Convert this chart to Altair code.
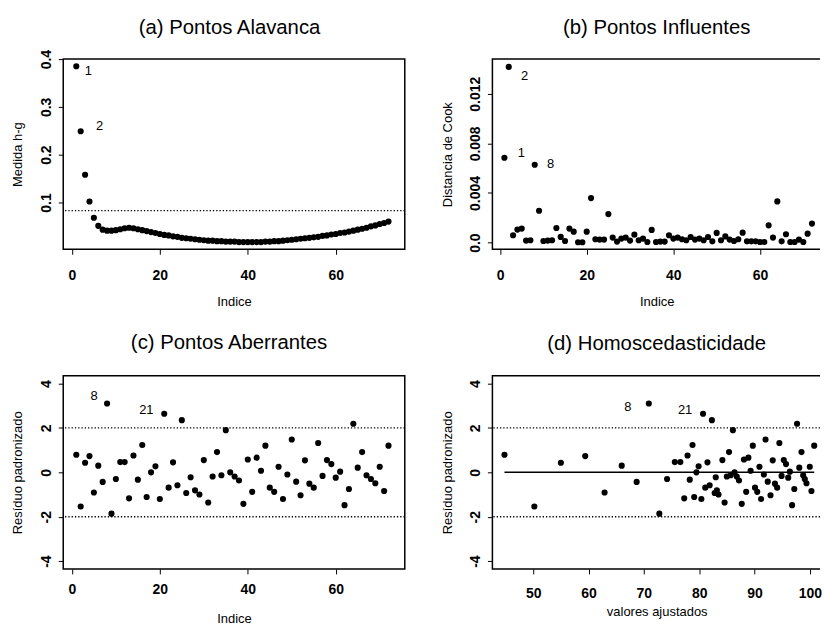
import altair as alt
import pandas as pd

# ---------------- data ----------------
indice = list(range(1, 73))

medida_hg = [
    0.385, 0.249, 0.158, 0.102, 0.068, 0.051, 0.043, 0.041, 0.041, 0.042,
    0.044, 0.046, 0.047, 0.046, 0.044, 0.042, 0.040, 0.038, 0.036, 0.034,
    0.032, 0.031, 0.029, 0.028, 0.026, 0.025, 0.024, 0.023, 0.022, 0.021,
    0.020, 0.020, 0.019, 0.019, 0.018, 0.018, 0.018, 0.017, 0.017, 0.017,
    0.017, 0.017, 0.017, 0.018, 0.018, 0.019, 0.019, 0.020, 0.021, 0.022,
    0.023, 0.024, 0.025, 0.026, 0.027, 0.028, 0.030, 0.031, 0.033, 0.034,
    0.036, 0.037, 0.039, 0.041, 0.043, 0.045, 0.047, 0.050, 0.052, 0.055,
    0.057, 0.060,
]

distancia_cook = [
    0.00684, 0.01417, 0.00059, 0.00105, 0.00113, 0.00016, 0.00019, 0.00628, 0.00257, 0.00013,
    0.00016, 0.00019, 0.00118, 0.00046, 0.00013, 0.00113, 0.00088, 0.00003, 0.00003, 0.00088,
    0.00359, 0.00027, 0.00024, 0.00024, 0.00230, 0.00040, 0.00008, 0.00032, 0.00040, 0.00016,
    0.00064, 0.00019, 0.00032, 0.00005, 0.00102, 0.00005, 0.00008, 0.00008, 0.00059, 0.00032,
    0.00040, 0.00027, 0.00019, 0.00045, 0.00024, 0.00032, 0.00019, 0.00045, 0.00010, 0.00078,
    0.00019, 0.00050, 0.00024, 0.00013, 0.00027, 0.00080, 0.00010, 0.00010, 0.00010, 0.00005,
    0.00005, 0.00139, 0.00040, 0.00332, 0.00010, 0.00067, 0.00005, 0.00005, 0.00024, 0.00005,
    0.00072, 0.00153,
]

residuo = [
    0.79, -1.54, 0.43, 0.73, -0.91, 0.30, -0.43, 3.10, -1.86, -0.30,
    0.46, 0.46, -1.17, 0.76, -0.33, 1.23, -1.11, 0.00, 0.27, -1.20,
    2.64, -0.69, 0.45, -0.58, 2.35, -0.93, -0.22, -0.81, -1.00, 0.55,
    -1.36, -0.19, 0.91, -0.13, 1.90, 0.00, -0.19, -0.37, -1.42, 0.58,
    -0.88, 0.66, 0.07, 1.20, -0.69, -0.88, 0.25, -1.20, -0.10, 1.48,
    -0.42, -1.03, 0.54, -0.51, -0.69, 1.32, -0.16, 0.55, 0.37, -0.24,
    0.03, -1.48, -0.75, 2.19, 0.21, 0.91, -0.13, -0.30, -0.49, 0.25,
    -0.84, 1.20,
]

ajustados = [
    44.8, 50.2, 55.0, 59.4, 62.9, 66.0, 68.7, 70.9, 72.8, 74.2,
    75.6, 76.6, 77.3, 77.9, 78.3, 78.8, 79.1, 79.5, 79.9, 80.4,
    80.7, 81.1, 81.5, 81.9, 82.3, 82.8, 83.0, 83.2, 83.5, 84.2,
    84.6, 85.0, 85.4, 85.7, 86.1, 86.4, 86.8, 87.2, 87.7, 88.1,
    88.5, 88.9, 89.3, 89.7, 90.1, 90.5, 90.9, 91.2, 91.7, 92.0,
    92.4, 92.9, 93.3, 93.7, 94.1, 94.5, 94.9, 95.3, 95.7, 96.1,
    96.4, 96.8, 97.2, 97.7, 98.1, 98.5, 98.8, 99.1, 99.4, 100.0,
    100.3, 100.8,
]

limite_hg = [0.083]
limites_residuo = [-2, 2]
linha_zero_x = [44.8, 100.8]
linha_zero_y = [0, 0]

titulos = ["(a) Pontos Alavanca", "(b) Pontos Influentes",
           "(c) Pontos Aberrantes", "(d) Homoscedasticidade"]
ticks_indice = [0, 20, 40, 60]
ticks_ajustados = [50, 60, 70, 80, 90, 100]
ticks_hg = [0.1, 0.2, 0.3, 0.4]
ticks_cook = [0.0, 0.002, 0.004, 0.006, 0.008, 0.010, 0.012, 0.014]
ticks_residuo = [-4, -2, 0, 2, 4]

# axis ranges (the right-hand panels end at the page edge, as in the reference)
dom_idx = [-1.97, 75.7]
dom_idx_b = [-1.77, 73.86]
dom_hg = [0.002, 0.4]
dom_cook = [-0.00054, 0.0148]
dom_res = [-4.35, 4.35]
dom_fit = [42.62, 101.85]

rotulos_a = [1, 2]
rotulos_b = [2, 1, 8]
rotulos_c = [8, 21]
rotulos_d = [8, 21]

df = pd.DataFrame({
    "indice": indice,
    "hg": medida_hg,
    "cook": distancia_cook,
    "res": residuo,
    "fit": ajustados,
    "lab": [str(i) for i in indice],
})
df_hg = pd.DataFrame({"v": limite_hg})
df_res = pd.DataFrame({"v": limites_residuo})
df_zero = pd.DataFrame({"fx": linha_zero_x, "fy": linha_zero_y})

# ---------------- styling helpers ----------------
FONT = "Liberation Sans"
W_L, W_R = 343, 329
GAP = 88
H_T, H_B = 191, 194
BOX = alt.ViewBackground(stroke="black", strokeWidth=1.5)
OPEN = alt.ViewBackground(stroke="transparent")


def x_axis(values, title, label_pad, title_y, title_x):
    return alt.Axis(
        values=values, title=title, grid=False, domain=False,
        ticks=True, tickSize=5, tickColor="black", tickWidth=1,
        labelFont=FONT, labelFontSize=14, labelFontWeight="bold", labelColor="black",
        labelPadding=label_pad, labelBaseline="alphabetic", labelAlign="center",
        labelAngle=0, labelFlush=False, labelOverlap=False,
        labelExpr="'' + datum.value",
        titleFont=FONT, titleFontSize=13, titleFontWeight="normal", titleColor="black",
        titleX=title_x, titleY=title_y, titleAlign="center",
        titleBaseline="alphabetic", titleAngle=0,
    )


def y_axis(values, title, height, label_expr):
    return alt.Axis(
        values=values, title=title, grid=False, domain=False,
        ticks=True, tickSize=5, tickColor="black", tickWidth=1,
        labelFont=FONT, labelFontSize=14, labelFontWeight="bold", labelColor="black",
        labelPadding=8, labelBaseline="alphabetic", labelAlign="center",
        labelAngle=270, labelFlush=False, labelOverlap=False,
        labelExpr=label_expr,
        titleFont=FONT, titleFontSize=13, titleFontWeight="normal", titleColor="black",
        titleX=-41.5, titleY=height / 2, titleAlign="center",
        titleBaseline="alphabetic", titleAngle=270,
    )


def panel_title(k, cx, base):
    d = pd.DataFrame({"t": [titulos[k]]})
    return alt.Chart(d).mark_text(font=FONT, fontSize=20.4, color="black",
                                  align="center", baseline="alphabetic").encode(
        text="t:N", x=alt.value(cx), y=alt.value(base))


def open_box(xdom, ydom, xs, ys, ytitle):
    # top, left and bottom sides of a right-hand panel's box (its right side is
    # beyond the page edge in the reference), drawn as one line through the corners
    d = pd.DataFrame({
        "bx": [xdom[1], xdom[0], xdom[0], xdom[1]],
        "by": [ydom[1], ydom[1], ydom[0], ydom[0]],
        "o": [0, 1, 2, 3],
    })
    return alt.Chart(d).mark_line(color="black", strokeWidth=1.5).encode(
        x=alt.X("bx:Q", scale=xs), y=alt.Y("by:Q", scale=ys, title=ytitle),
        order="o:Q")


def labels(data, xf, yf, xs, ys, ids, offsets):
    out = []
    for i, (dx, dy) in zip(ids, offsets):
        out.append(
            alt.Chart(data).transform_filter(alt.datum.indice == i)
            .mark_text(font=FONT, fontSize=13, color="black", align="center",
                       baseline="middle", dx=dx, dy=dy)
            .encode(x=alt.X(xf, scale=xs), y=alt.Y(yf, scale=ys), text="lab:N")
        )
    return out


def dotted(data, ys, ytitle):
    return alt.Chart(data).mark_rule(color="black", strokeWidth=1.3,
                                     strokeDash=[1.3, 2.0]).encode(
        y=alt.Y("v:Q", scale=ys, title=ytitle))


pt = dict(size=38, color="black", opacity=1)

# ---------------- (a) leverage ----------------
xs_a = alt.Scale(domain=dom_idx, nice=False, zero=False)
ys_a = alt.Scale(domain=dom_hg, nice=False, zero=False)
pts_a = alt.Chart(df).mark_circle(**pt).encode(
    x=alt.X("indice:Q", scale=xs_a,
            axis=x_axis(ticks_indice, "Indice", 25, 56.5, 171.5)),
    y=alt.Y("hg:Q", scale=ys_a, title="Medida h-g",
            axis=y_axis(ticks_hg, "Medida h-g", H_T, "format(datum.value, '.1f')")),
)
panel_a = alt.layer(
    dotted(df_hg, ys_a, "Medida h-g"), pts_a,
    *labels(df, "indice:Q", "hg:Q", xs_a, ys_a, rotulos_a, [(12, 5), (19, -5)]),
    panel_title(0, 167, -25.6),
).properties(width=W_L, height=H_T, view=BOX)

# ---------------- (b) Cook ----------------
xs_b = alt.Scale(domain=dom_idx_b, nice=False, zero=False)
ys_b = alt.Scale(domain=dom_cook, nice=False, zero=False)
cook_expr = ("datum.value == 0 ? '0.0' : (round(datum.value * 1000) % 4 == 0 ? "
             "format(datum.value, '.3f') : '')")
pts_b = alt.Chart(df).mark_circle(**pt).encode(
    x=alt.X("indice:Q", scale=xs_b,
            axis=x_axis(ticks_indice, "Indice", 25, 56.5, 165)),
    y=alt.Y("cook:Q", scale=ys_b, title="Distancia de Cook",
            axis=y_axis(ticks_cook, "Distancia de Cook", H_T, cook_expr)),
)
panel_b = alt.layer(
    open_box(dom_idx_b, dom_cook, xs_b, ys_b, "Distancia de Cook"), pts_b,
    *labels(df, "indice:Q", "cook:Q", xs_b, ys_b, rotulos_b, [(16, 9), (17, -5), (16, -1)]),
    panel_title(1, 165, -25.6),
).properties(width=W_R, height=H_T, view=OPEN)

# ---------------- (c) residuals vs index ----------------
xs_c = alt.Scale(domain=dom_idx, nice=False, zero=False)
ys_c = alt.Scale(domain=dom_res, nice=False, zero=False)
pts_c = alt.Chart(df).mark_circle(**pt).encode(
    x=alt.X("indice:Q", scale=xs_c,
            axis=x_axis(ticks_indice, "Indice", 20, 54, 171.5)),
    y=alt.Y("res:Q", scale=ys_c, title="Resíduo padronizado",
            axis=y_axis(ticks_residuo, "Resíduo padronizado", H_B, "'' + datum.value")),
)
panel_c = alt.layer(
    dotted(df_res, ys_c, "Resíduo padronizado"), pts_c,
    *labels(df, "indice:Q", "res:Q", xs_c, ys_c, rotulos_c, [(-13, -8), (-18, -4)]),
    panel_title(2, 166.5, -27),
).properties(width=W_L, height=H_B, view=BOX)

# ---------------- (d) residuals vs fitted ----------------
xs_d = alt.Scale(domain=dom_fit, nice=False, zero=False)
ys_d = alt.Scale(domain=dom_res, nice=False, zero=False)
pts_d = alt.Chart(df).mark_circle(**pt).encode(
    x=alt.X("fit:Q", scale=xs_d,
            axis=x_axis(ticks_ajustados, "valores ajustados", 24, 47, 165)),
    y=alt.Y("res:Q", scale=ys_d, title="Resíduo padronizado",
            axis=y_axis(ticks_residuo, "Resíduo padronizado", H_B, "'' + datum.value")),
)
zero_line = alt.Chart(df_zero).mark_line(color="black", strokeWidth=1.5).encode(
    x=alt.X("fx:Q", scale=xs_d), y=alt.Y("fy:Q", scale=ys_d, title="Resíduo padronizado"))
panel_d = alt.layer(
    open_box(dom_fit, dom_res, xs_d, ys_d, "Resíduo padronizado"),
    dotted(df_res, ys_d, "Resíduo padronizado"), zero_line, pts_d,
    *labels(df, "fit:Q", "res:Q", xs_d, ys_d, rotulos_d, [(-21, 4), (-18, -4)]),
    panel_title(3, 165, -25.7),
).properties(width=W_R, height=H_B, view=OPEN)

chart = alt.concat(
    panel_a, panel_b, panel_c, panel_d,
    columns=2, spacing={"row": 127, "column": GAP}, bounds="flush", align="each",
).properties(
    padding={"left": 10.5, "top": 15, "right": 0, "bottom": 0},
    background="white",
)

chart.save("out.html", embed_options={"renderer": "svg", "actions": False})
